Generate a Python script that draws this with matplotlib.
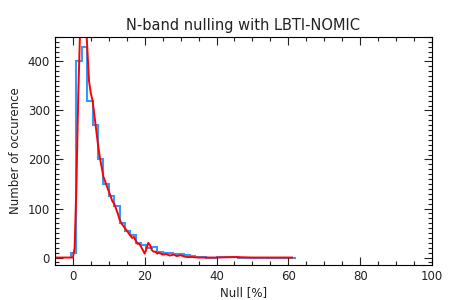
import numpy as np
import matplotlib
matplotlib.use("Agg")
import matplotlib.pyplot as plt
from matplotlib.ticker import MultipleLocator

# histogram (bin edges in %, counts)
bin_edges = [-0.5, 1.0, 2.5, 4.0, 5.5, 7.0, 8.5, 10.0, 11.5, 13.0, 14.5, 16.0,
             17.5, 19.0, 20.5, 22.0, 23.5, 25.0, 26.5, 28.0, 29.5, 31.0, 32.5,
             34.0, 35.5, 37.0, 40.0, 43.0, 46.0, 62.0]
counts = [10, 400, 430, 320, 270, 200, 150, 125, 105, 70, 55, 45,
          30, 25, 20, 22, 12, 10, 10, 8, 8, 5, 3, 2, 1, 0, 1, 1, 0]

# fitted curve
fit_x = [-5, 0, 0.5, 1.0, 1.5, 2.0, 2.5, 3.0, 3.5, 4.0, 4.5, 5.0, 5.5, 6.0,
         6.5, 7.0, 7.5, 8.0, 8.5, 9.0, 9.5, 10, 10.5, 11, 11.5, 12, 12.5, 13,
         13.5, 14, 14.5, 15, 15.5, 16, 16.5, 17, 17.5, 18, 18.5, 19, 19.5, 20,
         20.5, 21, 21.5, 22, 22.5, 23, 23.5, 24, 24.5, 25, 26, 27, 28, 29, 30,
         31, 32, 33, 35, 40, 45, 50, 55, 61]
fit_y = [0, 0, 20, 150, 330, 460, 520, 530, 500, 430, 360, 335, 320, 290,
         260, 230, 205, 185, 165, 155, 145, 135, 125, 115, 110, 100, 90, 78,
         70, 65, 60, 55, 50, 45, 40, 42, 35, 28, 28, 22, 15, 8,
         18, 30, 25, 15, 12, 12, 8, 10, 8, 6, 7, 4, 6, 3, 5,
         2, 1, 1, 0, 0, 1, 0, 0, 0]

fig = plt.figure(figsize=(4.5, 3), dpi=100)
ax = fig.add_axes([0.122, 0.117, 0.838, 0.76])

ax.stairs(counts, bin_edges, color="#3399ff", lw=1.5)
ax.plot(fit_x, fit_y, color="red", lw=1.4)

ax.set_xlim(-5, 100)
ax.set_ylim(-15, 450)
ax.xaxis.set_major_locator(MultipleLocator(20))
ax.xaxis.set_minor_locator(MultipleLocator(5))
ax.yaxis.set_major_locator(MultipleLocator(100))
ax.yaxis.set_minor_locator(MultipleLocator(10))
ax.tick_params(which="both", direction="in", top=True, right=True,
               labelsize=8.5, width=0.8, colors="#222222")
ax.tick_params(which="major", length=6)
ax.tick_params(which="minor", length=3)
for s in ax.spines.values():
    s.set_linewidth(0.8)

ax.set_xlabel("Null [%]", fontsize=8.5, labelpad=2, color="#222222")
ax.set_ylabel("Number of occurence", fontsize=8.5, color="#222222")
ax.set_title("N-band nulling with LBTI-NOMIC", fontsize=10.5, pad=5,
             color="#222222")

fig.savefig("out.png", dpi=100)
